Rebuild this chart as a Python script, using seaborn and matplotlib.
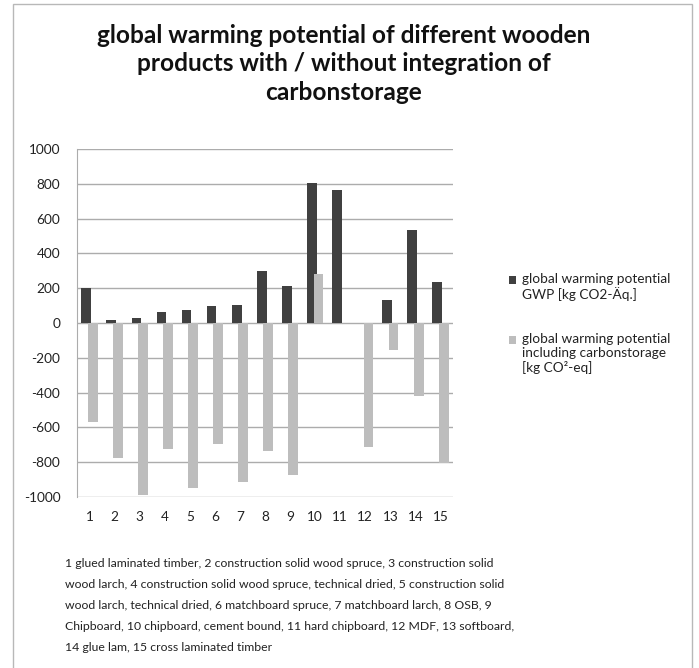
import numpy as np
import pandas as pd
import seaborn as sns
import matplotlib
matplotlib.use("Agg")
import matplotlib.pyplot as plt
from matplotlib.patches import Rectangle, Patch

sns.set_style("white")
plt.rcParams['font.family'] = ['Lato', 'DejaVu Sans']
plt.rcParams['axes.unicode_minus'] = False

# values (nan = no bar)
products = [str(i) for i in range(1, 16)]
gwp = [200, 20, 27, 66, 72, 97, 105, 301, 212, 805, 762, np.nan, 134, 536, 234]
gwp_carbonstorage = [-568, -775, -988, -723, -946, -698, -911, -737, -875, 282, np.nan, -712, -153, -418, -805]

series_names = ["global warming potential\nGWP [kg CO2-Äq.]",
                "global warming potential\nincluding carbonstorage\n[kg CO²-eq]"]
title = "global warming potential of different wooden\nproducts with / without integration of\ncarbonstorage"
caption = ("1 glued laminated timber, 2 construction solid wood spruce, 3 construction solid\n"
           "wood larch, 4 construction solid wood spruce, technical dried, 5 construction solid\n"
           "wood larch, technical dried, 6 matchboard spruce, 7 matchboard larch, 8 OSB, 9\n"
           "Chipboard, 10 chipboard, cement bound, 11 hard chipboard, 12 MDF, 13 softboard,\n"
           "14 glue lam, 15 cross laminated timber")

dark = "#404040"
light = "#bdbdbd"

df = pd.DataFrame({"product": products * 2,
                   "value": gwp + gwp_carbonstorage,
                   "series": [series_names[0]] * 15 + [series_names[1]] * 15})

W, H = 699, 668
DPI = 100
fig = plt.figure(figsize=(W / DPI, H / DPI), dpi=DPI)

# outer chart frame
fig.patches.append(Rectangle((13 / W, -0.01), (692 - 13) / W, 1 - 4 / H + 0.01,
                             transform=fig.transFigure, fill=False,
                             edgecolor="#b8b8b8", linewidth=1))

ax = fig.add_axes([77 / W, 1 - 497 / H, (453 - 77) / W, (497 - 149) / H])
sns.barplot(data=df, x="product", y="value", hue="series", order=products,
            palette=[dark, light], width=0.52, gap=-0.5, ax=ax, legend=False,
            errorbar=None, saturation=1, linewidth=0)

ax.set_ylim(-1000, 1000)
ax.set_yticks(np.arange(-1000, 1001, 200))
ax.set_xlim(-0.5, 14.5)
ax.set_xlabel("")
ax.set_ylabel("")
ax.yaxis.grid(True, color="#acacac", linewidth=1)
ax.set_axisbelow(True)
for s in ["top", "right", "bottom"]:
    ax.spines[s].set_visible(False)
ax.spines["left"].set_color("#acacac")
ax.tick_params(axis="y", length=3, color="#acacac", labelsize=9.8, pad=9, labelcolor="#222222")
ax.tick_params(axis="x", length=0, labelsize=9.8, pad=10, labelcolor="#222222")

handles = [Patch(facecolor=dark, edgecolor="none"), Patch(facecolor=light, edgecolor="none")]
leg = ax.legend(handles, series_names, loc="upper left", bbox_to_anchor=(509 / W, 1 - 273 / H),
                bbox_transform=fig.transFigure, frameon=False, fontsize=9.8,
                handlelength=0.52, handleheight=0.52, handletextpad=0.45, labelspacing=2.3,
                borderaxespad=0, borderpad=0)
for t in leg.get_texts():
    t.set_linespacing(1.2)
    t.set_color("#222222")

fig.text(344 / W, 1 - 24 / H, title, ha="center", va="top", fontsize=17.6,
         fontweight="bold", linespacing=1.28, color="#111111")
fig.text(65 / W, 1 - 558 / H, caption, ha="left", va="top", fontsize=8.8,
         linespacing=2.12, color="#222222")

# move each legend square up so it sits next to the first line of its label
fig.canvas.draw()
for t, p in zip(leg.get_texts(), leg.get_patches()):
    tb = t.get_window_extent()
    pb = p.get_window_extent()
    delta = (tb.y1 - 3) - pb.y1
    p.set_y(p.get_y() + delta * 72 / DPI)

plt.savefig("out.png", dpi=DPI)
